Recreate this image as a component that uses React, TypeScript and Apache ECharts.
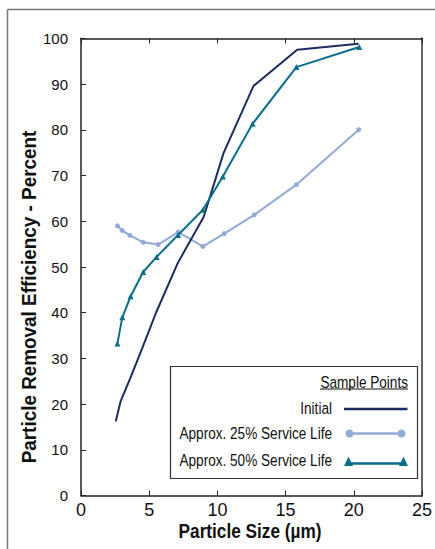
import React, { useEffect, useRef } from "react";
import * as echarts from "echarts";

const initialX = [2.55, 2.9, 3.6, 4.5, 5.5, 7.1, 9.0, 10.45, 12.65, 15.85, 20.35];
const initialY = [16.3, 20.6, 25.6, 32.3, 40.0, 50.9, 61.0, 74.9, 89.6, 97.5, 98.8];

const service25X = [2.67, 3.01, 3.59, 4.56, 5.66, 7.12, 8.94, 10.5, 12.7, 15.79, 20.36];
const service25Y = [59.0, 58.0, 56.9, 55.4, 54.9, 57.6, 54.5, 57.3, 61.4, 68.0, 80.0];

const service50X = [2.67, 3.03, 3.64, 4.56, 5.54, 7.12, 8.94, 10.4, 12.58, 15.79, 20.4];
const service50Y = [33.3, 39.0, 43.6, 48.9, 52.2, 57.0, 62.5, 69.8, 81.3, 93.7, 98.1];

const xTicks = { min: 0, max: 25, interval: 5 };
const yTicks = { min: 0, max: 100, interval: 10 };

const seriesNames = ["Initial", "Approx. 25% Service Life", "Approx. 50% Service Life"];
const legendTitle = "Sample Points";
const xTitle = "Particle Size (µm)";
const yTitle = "Particle Removal Efficiency - Percent";

const NAVY = "#1d2b5e";
const LIGHT = "#93a9d6";
const TEAL = "#0b6e8b";
const SANS = '"Liberation Sans", Arial, sans-serif';

const zip = (xs: number[], ys: number[]) => xs.map((x, i) => [x, ys[i]]);

export default function App() {
  const ref = useRef<HTMLDivElement>(null);
  useEffect(() => {
    if (!ref.current) return;
    const chart = echarts.init(ref.current, null, { renderer: "svg" });
    const rowY = [409, 433.5, 461.5];
    const textRight = 332;
    const legendText = (text: string, x: number, y: number) => ({
      type: "text",
      x,
      y,
      scaleX: 0.8,
      style: { text, fontSize: 17, fontFamily: SANS, fill: "#111", align: "right", verticalAlign: "middle" },
    });
    chart.setOption({
      animation: false,
      backgroundColor: "#ffffff",
      grid: { left: 81, right: 11.5, top: 38.3, bottom: 53.3, containLabel: false },
      xAxis: [
        {
          type: "value",
          position: "bottom",
          min: xTicks.min,
          max: xTicks.max,
          interval: xTicks.interval,
          axisLine: { show: true, onZero: false, lineStyle: { color: "#222", width: 1.5 } },
          axisTick: { show: true, inside: true, length: 5, lineStyle: { color: "#222" } },
          axisLabel: { fontSize: 18, color: "#111", fontFamily: SANS, margin: 5 },
          splitLine: { show: false },
        },
        {
          type: "value",
          position: "top",
          min: xTicks.min,
          max: xTicks.max,
          interval: xTicks.interval,
          axisLine: { show: true, onZero: false, lineStyle: { color: "#222", width: 1.5 } },
          axisTick: { show: true, inside: true, length: 5, lineStyle: { color: "#222" } },
          axisLabel: { show: false },
          splitLine: { show: false },
        },
      ],
      yAxis: [
        {
          type: "value",
          position: "left",
          min: yTicks.min,
          max: yTicks.max,
          interval: yTicks.interval,
          axisLine: { show: true, onZero: false, lineStyle: { color: "#222", width: 1.5 } },
          axisTick: { show: true, inside: true, length: 5, lineStyle: { color: "#222" } },
          axisLabel: { fontSize: 15, color: "#111", fontFamily: SANS, margin: 13, padding: [0, 0, 10, 0] },
          splitLine: { show: false },
        },
        {
          type: "value",
          position: "right",
          min: yTicks.min,
          max: yTicks.max,
          interval: yTicks.interval,
          axisLine: { show: true, onZero: false, lineStyle: { color: "#666", width: 2 } },
          axisTick: { show: false },
          axisLabel: { show: false },
          splitLine: { show: false },
        },
      ],
      series: [
        {
          name: seriesNames[0],
          type: "line",
          data: zip(initialX, initialY),
          showSymbol: false,
          symbol: "none",
          lineStyle: { color: NAVY, width: 2 },
          itemStyle: { color: NAVY },
          z: 3,
        },
        {
          name: seriesNames[1],
          type: "line",
          data: zip(service25X, service25Y),
          symbol: "circle",
          symbolSize: 5,
          lineStyle: { color: LIGHT, width: 2 },
          itemStyle: { color: LIGHT },
          z: 2,
        },
        {
          name: seriesNames[2],
          type: "line",
          data: zip(service50X, service50Y),
          symbol: "triangle",
          symbolSize: 6,
          lineStyle: { color: TEAL, width: 2 },
          itemStyle: { color: TEAL },
          z: 4,
        },
      ],
      graphic: [
        { type: "line", shape: { x1: 7.5, y1: 9.5, x2: 435, y2: 9.5 }, style: { stroke: "#777", lineWidth: 1.5 } },
        { type: "line", shape: { x1: 7.5, y1: 9.5, x2: 7.5, y2: 549 }, style: { stroke: "#777", lineWidth: 1.5 } },
        {
          type: "text",
          x: 250,
          y: 530.5,
          scaleX: 0.82,
          style: { text: xTitle, fontSize: 21, fontWeight: "bold", fontFamily: SANS, fill: "#111", align: "center", verticalAlign: "middle" },
        },
        {
          type: "text",
          x: 28.5,
          y: 297,
          rotation: Math.PI / 2,
          scaleX: 0.945,
          style: { text: yTitle, fontSize: 20, fontWeight: "bold", fontFamily: SANS, fill: "#111", align: "center", verticalAlign: "middle" },
        },
        {
          type: "group",
          z: 100,
          children: [
            { type: "rect", shape: { x: 170.5, y: 366.5, width: 247, height: 112 }, style: { fill: "#fff", stroke: "#333", lineWidth: 1.2 } },
            legendText(legendTitle, 408, 381.5),
            { type: "line", shape: { x1: 320, y1: 389, x2: 408, y2: 389 }, style: { stroke: "#111", lineWidth: 1 } },
            legendText(seriesNames[0], textRight, rowY[0] - 1),
            legendText(seriesNames[1], textRight, rowY[1] - 1),
            legendText(seriesNames[2], textRight, rowY[2] - 2),
            { type: "line", shape: { x1: 344, y1: rowY[0], x2: 407.5, y2: rowY[0] }, style: { stroke: NAVY, lineWidth: 2.5 } },
            { type: "line", shape: { x1: 349.5, y1: rowY[1], x2: 401.5, y2: rowY[1] }, style: { stroke: LIGHT, lineWidth: 2.5 } },
            { type: "circle", shape: { cx: 349.5, cy: rowY[1], r: 4 }, style: { fill: LIGHT } },
            { type: "circle", shape: { cx: 401.5, cy: rowY[1], r: 4 }, style: { fill: LIGHT } },
            { type: "line", shape: { x1: 348.5, y1: rowY[2] + 2, x2: 403.5, y2: rowY[2] + 2 }, style: { stroke: TEAL, lineWidth: 2.5 } },
            { type: "polygon", shape: { points: [[348.5, 456.5], [344, 466], [353, 466]] }, style: { fill: TEAL } },
            { type: "polygon", shape: { points: [[403.5, 456.5], [399, 466], [408, 466]] }, style: { fill: TEAL } },
          ],
        },
      ],
    });
    return () => chart.dispose();
  }, []);
  return <div ref={ref} style={{ position: "absolute", left: 0, top: 0, width: 435, height: 549 }} />;
}
